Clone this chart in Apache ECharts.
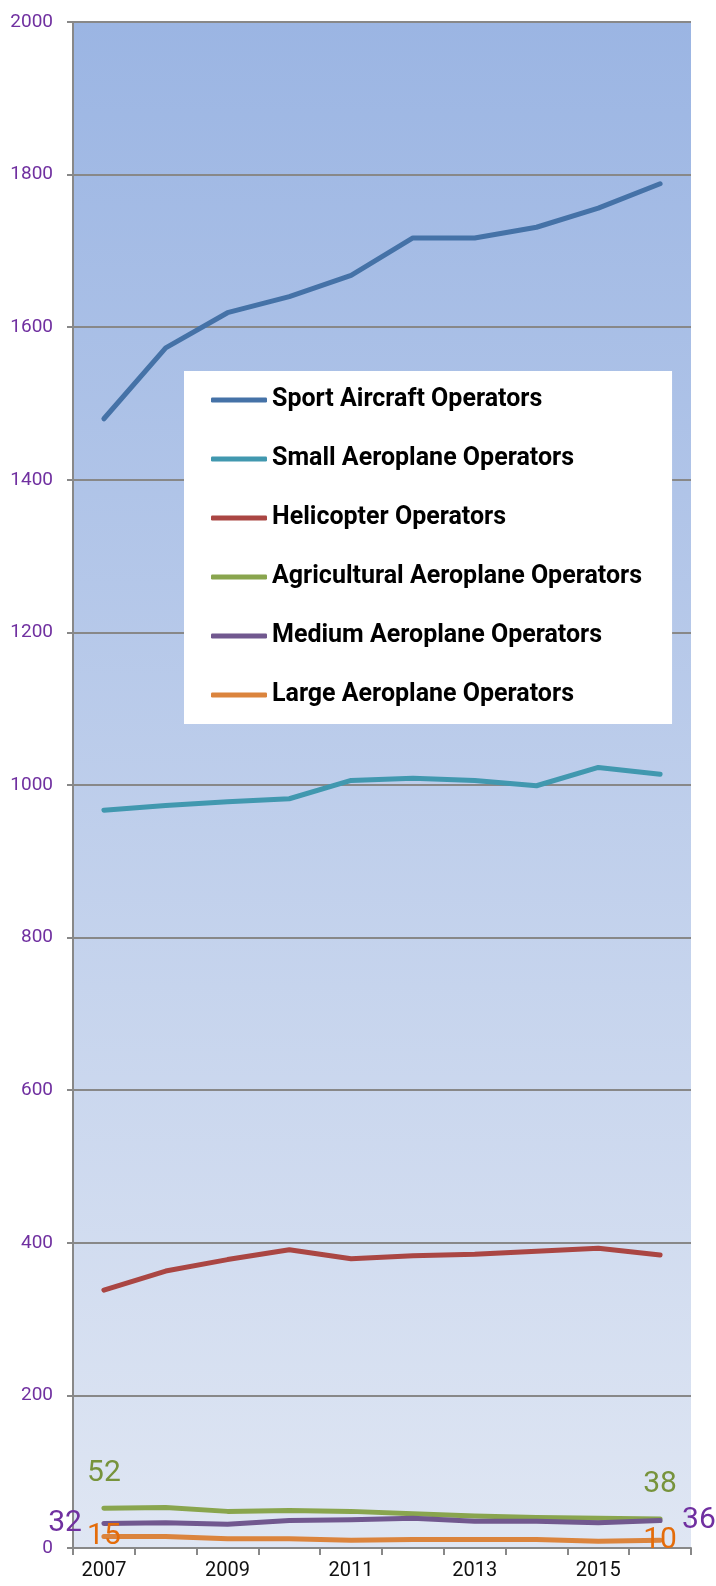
<!DOCTYPE html>
<html>
<head>
<meta charset="utf-8">
<script src="https://cdn.jsdelivr.net/npm/echarts@6/dist/echarts.min.js"></script>
<style>
  html, body { margin: 0; padding: 0; background: #fff; }
  #chart { width: 716px; height: 1586px; }
</style>
</head>
<body>
<div id="chart"></div>
<script>
// years on the x axis
var years = ['2007', '2008', '2009', '2010', '2011', '2012', '2013', '2014', '2015', '2016'];

// operators per category
var sportAircraft = [1480, 1573, 1619, 1640, 1668, 1717, 1717, 1731, 1756, 1788];
var smallAeroplane = [967, 973, 978, 982, 1006, 1009, 1006, 999, 1023, 1014];
var helicopter = [338, 363, 378, 391, 379, 383, 385, 389, 393, 384];
var agricultural = [52, 53, 48, 49, 48, 45, 42, 40, 39, 38];
var mediumAeroplane = [32, 33, 31, 36, 37, 39, 35, 35, 33, 36];
var largeAeroplane = [15, 15, 12, 12, 10, 11, 11, 11, 9, 10];

var yTicks = { min: 0, max: 2000, step: 200 };

var labelFont = { fontFamily: 'Roboto', fontSize: 30 };

// 只给首尾两个点加数值标签
function endLabels(values, color, firstPos, lastPos, dist) {
  return values.map(function (v, i) {
    if (i !== 0 && i !== values.length - 1) return v;
    return {
      value: v,
      label: Object.assign({
        show: true,
        color: color,
        position: i === 0 ? firstPos : lastPos,
        distance: dist,
        formatter: '{c}'
      }, labelFont)
    };
  });
}

function lineSeries(name, color, data) {
  return {
    name: name,
    type: 'line',
    data: data,
    symbol: 'circle',
    symbolSize: 0,
    showSymbol: true,
    showAllSymbol: true,
    color: color,
    itemStyle: { color: color },
    lineStyle: { width: 5, color: color, cap: 'round', join: 'round' },
    z: 3
  };
}

var chart = echarts.init(document.getElementById('chart'));

var option = {
  animation: false,
  grid: {
    left: 73,
    right: 25,
    top: 22,
    bottom: 38,
    show: true,
    borderWidth: 0,
    backgroundColor: new echarts.graphic.LinearGradient(0, 0, 0, 1, [
      { offset: 0, color: '#9bb5e3' },
      { offset: 1, color: '#dfe6f3' }
    ])
  },
  legend: {
    orient: 'vertical',
    left: 184,
    top: 371,
    backgroundColor: '#ffffff',
    padding: [14, 30, 14, 27],
    itemGap: 29,
    itemWidth: 56,
    itemHeight: 5,
    icon: 'roundRect',
    textStyle: {
      fontFamily: 'Roboto',
      fontSize: 25,
      fontWeight: 'bold',
      color: '#000',
      lineHeight: 30
    }
  },
  xAxis: {
    type: 'category',
    data: years,
    boundaryGap: true,
    axisLine: { lineStyle: { color: '#888', width: 2 } },
    axisTick: { show: true, interval: 0, length: 7, lineStyle: { color: '#888', width: 2 } },
    axisLabel: {
      interval: 1,
      color: '#111',
      fontFamily: 'Roboto',
      fontSize: 20,
      margin: 13
    }
  },
  yAxis: {
    type: 'value',
    min: yTicks.min,
    max: yTicks.max,
    interval: yTicks.step,
    axisLine: { show: true, lineStyle: { color: '#888', width: 2 } },
    axisTick: { show: true, length: 6, lineStyle: { color: '#888', width: 2 } },
    axisLabel: {
      color: '#7030a0',
      fontFamily: 'Roboto',
      fontSize: 19,
      margin: 20,
      formatter: function (v) { return String(v); }
    },
    splitLine: { lineStyle: { color: '#888', width: 2 } }
  },
  series: [
    lineSeries('Sport Aircraft Operators', '#4572a7', sportAircraft),
    lineSeries('Small Aeroplane Operators', '#4198af', smallAeroplane),
    lineSeries('Helicopter Operators', '#aa4643', helicopter),
    lineSeries('Agricultural Aeroplane Operators', '#89a54e',
      endLabels(agricultural, '#77933c', 'top', 'top', 20)),
    lineSeries('Medium Aeroplane Operators', '#71588f',
      endLabels(mediumAeroplane, '#7030a0', 'left', 'right', 22)),
    lineSeries('Large Aeroplane Operators', '#db843d',
      endLabels(largeAeroplane, '#e46c0a', 'inside', 'inside', 0))
  ]
};

chart.setOption(option);
</script>
</body>
</html>
